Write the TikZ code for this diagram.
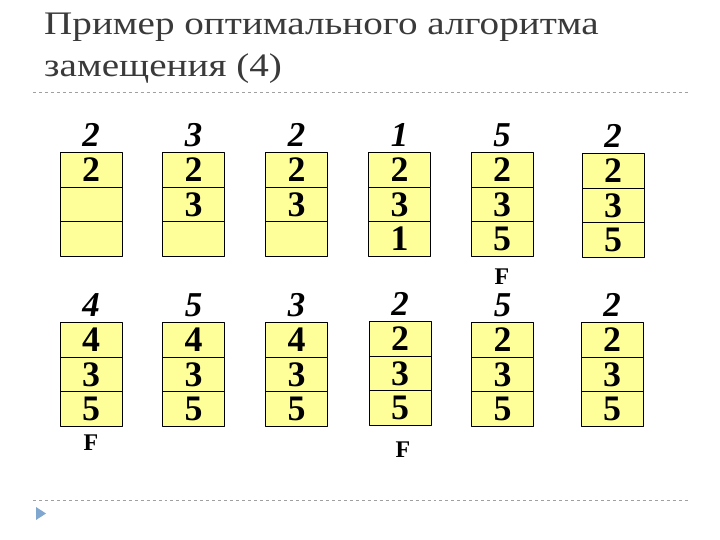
\documentclass[tikz,border=0pt]{standalone}
\usepackage{fontspec}
\setmainfont{Liberation Serif}
\definecolor{cellfill}{HTML}{FFFF99}
\definecolor{titlegray}{HTML}{3A3A3A}
\definecolor{rulegray}{HTML}{A0A0A0}
\definecolor{bulletblue}{HTML}{7FA7CF}
\tikzset{
  cell/.style={draw=black,fill=cellfill,line width=0.8pt,minimum width=62bp,minimum height=34.5bp,inner sep=0pt,font=\fontsize{36}{36}\selectfont\bfseries},
  req/.style={inner sep=0pt,font=\fontsize{35}{35}\selectfont\bfseries\itshape},
  fault/.style={inner sep=0pt,font=\fontsize{24}{24}\selectfont\bfseries},
  headline/.style={anchor=base west,inner sep=0pt,text=titlegray,font=\fontsize{33}{33}\selectfont},
  ruleline/.style={rulegray,dashed,line width=0.6pt},
}
\newcommand{\widetitle}[1]{\scalebox{1.19}[1]{#1}}
\begin{document}
\begin{tikzpicture}[>=latex,line join=bevel,]
\useasboundingbox (0bp,0bp) rectangle (720bp,540bp);
%% title
\node (title1) at (44bp,505bp) [headline] {\widetitle{Пример оптимального алгоритма}};
  \node (title2) at (44bp,463bp) [headline] {\widetitle{замещения (4)}};
  \coordinate (rule_a) at (33bp,448bp);
  \coordinate (rule_b) at (688bp,448bp);
  \coordinate (rule_c) at (33bp,40bp);
  \coordinate (rule_d) at (688bp,40bp);
  \draw [ruleline] (rule_a) -- (rule_b);
  \draw [ruleline] (rule_c) -- (rule_d);
  \fill [bulletblue] (36bp,33bp) -- (46bp,26.5bp) -- (36bp,20bp) -- cycle;
%% frames
\foreach \x/\y/\r/\a/\b/\c [count=\i] in {
    91/370/2/2//, 193.5/370/3/2/3/, 296.5/370/2/2/3/,
    399.5/370/1/2/3/1, 502/370/5/2/3/5, 613/369/2/2/3/5,
    91/200/4/4/3/5, 193.5/200/5/4/3/5, 296.5/200/3/4/3/5,
    400/201/2/2/3/5, 502.5/200/5/2/3/5, 612/200/2/2/3/5} {
  \node (frame_\i_a) at (\x bp,\y bp) [cell] {\a};
  \node (frame_\i_b) at (\x bp,\y bp-34.5bp) [cell] {\b};
  \node (frame_\i_c) at (\x bp,\y bp-69bp) [cell] {\c};
  \node (ref_\i) at (\x bp,\y bp+35bp) [req] {\r};
}
%% page faults
  \node (fault_5) at (502bp,263bp) [fault] {F};
  \node (fault_7) at (91bp,97bp) [fault] {F};
  \node (fault_10) at (403bp,90bp) [fault] {F};
%
\end{tikzpicture}
\end{document}
